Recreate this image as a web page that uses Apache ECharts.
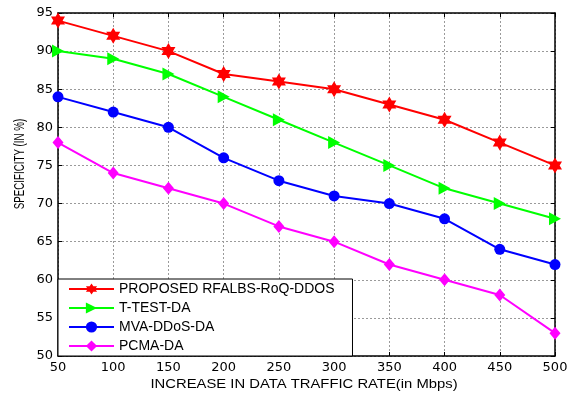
<!DOCTYPE html>
<html><head><meta charset="utf-8">
<script src="https://cdn.jsdelivr.net/npm/echarts@6/dist/echarts.min.js"></script>
<style>html,body{margin:0;padding:0;background:#fff}#c{width:574px;height:396px}</style>
</head><body><div id="c"></div>
<script>
const rates = [50,100,150,200,250,300,350,400,450,500];
const proposed = [94,92,90,87,86,85,83,81,78,75];
const ttest = [90,89,87,84,81,78,75,72,70,68];
const mva = [84,82,80,76,73,71,70,68,64,62];
const pcma = [78,74,72,70,67,65,62,60,58,53];
const names = ['PROPOSED RFALBS-RoQ-DDOS','T-TEST-DA','MVA-DDoS-DA','PCMA-DA'];
const xTitle = 'INCREASE IN DATA TRAFFIC RATE(in Mbps)';
const yTitle = 'SPECIFICITY (IN %)';

const star = 'path://M0,-10 L2.89,-5 L8.66,-5 L5.77,0 L8.66,5 L2.89,5 L0,10 L-2.89,5 L-8.66,5 L-5.77,0 L-8.66,-5 L-2.89,-5 Z';
const tri = 'path://M-1,-1 L1,0 L-1,1 Z';
const font = 'DejaVu Sans, sans-serif';
const arial = 'Liberation Sans, Arial, sans-serif';
const zip = a => rates.map((x,i)=>[x,a[i]]);
function s(name, data, color, symbol, size){
  return {name, type:'line', data:zip(data), symbol, symbolSize:size,
    lineStyle:{color, width:2}, itemStyle:{color}, color, animation:false};
}
const split = {show:true, lineStyle:{color:'#9a9a9a', type:[2,2], width:1}};
const chart = echarts.init(document.getElementById('c'));
chart.setOption({
  animation:false,
  grid:{left:58, right:19, top:13, bottom:40},
  xAxis:[{type:'value', min:50, max:500, interval:50,
    axisLine:{lineStyle:{color:'#000', width:1.5}},
    axisTick:{inside:true, length:4, lineStyle:{color:'#000'}},
    axisLabel:{color:'#000', fontSize:13, fontFamily:font, margin:5},
    splitLine:split},
   {type:'value', position:'top', min:50, max:500, interval:50,
    axisLine:{show:true, lineStyle:{color:'#000', width:1.5}},
    axisTick:{show:true, inside:true, length:4, lineStyle:{color:'#000'}},
    axisLabel:{show:false}, splitLine:{show:false}}],
  yAxis:[{type:'value', min:50, max:95, interval:5,
    axisLine:{show:true, lineStyle:{color:'#000', width:1.5}},
    axisTick:{show:true, inside:true, length:4, lineStyle:{color:'#000'}},
    axisLabel:{color:'#000', fontSize:13, fontFamily:font, margin:5},
    splitLine:split},
   {type:'value', position:'right', min:50, max:95, interval:5,
    axisLine:{show:true, lineStyle:{color:'#000', width:1.5}},
    axisTick:{show:true, inside:true, length:4, lineStyle:{color:'#000'}},
    axisLabel:{show:false}, splitLine:{show:false}}],
  graphic:[
   {type:'text', x:20, y:164, rotation:Math.PI/2, scaleX:0.65,
    style:{text:yTitle, fill:'#000', font:'15px '+arial, align:'center', verticalAlign:'middle'}},
   {type:'text', x:304, y:384, scaleX:1.14,
    style:{text:xTitle, fill:'#000', font:'13px '+arial, align:'center', verticalAlign:'middle'}}],
  legend:{orient:'vertical', left:58, bottom:40, data:names,
    backgroundColor:'#fff', borderColor:'#000', borderWidth:1,
    padding:[3,18,3,10], itemGap:5, itemWidth:45, itemHeight:14,
    textStyle:{color:'#000', fontSize:14, fontFamily:arial}},
  series:[
    s(names[0], proposed, '#ff0000', star, [14,16]),
    s(names[1], ttest, '#00ff00', tri, [12,13]),
    s(names[2], mva, '#0000ff', 'circle', 11),
    s(names[3], pcma, '#ff00ff', 'diamond', [11,13])
  ]
});
</script></body></html>
